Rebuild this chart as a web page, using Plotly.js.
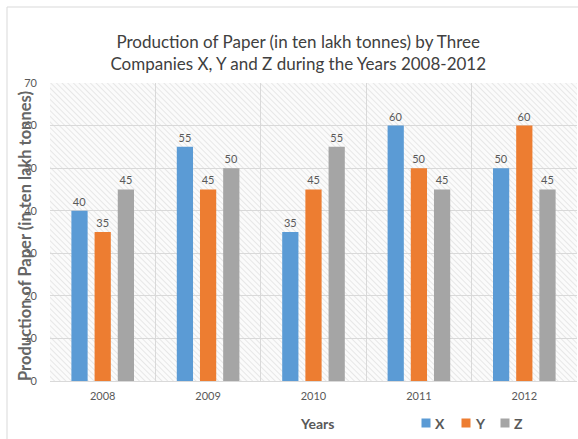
<!DOCTYPE html>
<html>
<head>
<meta charset="utf-8">
<script src="https://cdn.plot.ly/plotly-3.0.1.min.js"></script>
<style>html,body{margin:0;padding:0;background:#fff;}#chart{width:578px;height:439px;}</style>
</head>
<body>
<div id="chart"></div>
<script>
const years = ['2008', '2009', '2010', '2011', '2012'];
const seriesX = [40, 55, 35, 60, 50];
const seriesY = [35, 45, 45, 50, 60];
const seriesZ = [45, 50, 55, 45, 45];
const seriesNames = ['X', 'Y', 'Z'];
const colors = ['#5B9BD5', '#ED7D31', '#A5A5A5'];
const yTicks = [0, 10, 20, 30, 40, 50, 60, 70];

const FONT = 'Lato, "Open Sans", sans-serif';
const L = 50, T = 83, W = 527, H = 298;
const px2x = p => (p - L) / W;
const py2y = p => (T + H - p) / H;

const svg = "<svg xmlns='http://www.w3.org/2000/svg' width='" + W + "' height='" + H + "' viewBox='0 0 " + W + " " + H + "' preserveAspectRatio='none'>" +
  "<defs><pattern id='p' width='4' height='4' patternUnits='userSpaceOnUse' patternTransform='rotate(-45)'>" +
  "<rect width='4' height='4' fill='#fbfbfb'/><line x1='0' y1='0' x2='0' y2='4' stroke='#e2e2e2' stroke-width='1.6'/></pattern></defs>" +
  "<rect width='100%' height='100%' fill='url(#p)'/></svg>";
const hatch = 'data:image/svg+xml;base64,' + btoa(svg);

const allSeries = [seriesX, seriesY, seriesZ];
const traces = allSeries.map((vals, i) => ({
  type: 'bar',
  name: seriesNames[i],
  x: years,
  y: vals,
  marker: {color: colors[i]},
  text: vals.map(String),
  textposition: 'outside',
  textfont: {family: FONT, size: 11, color: '#595959'},
  cliponaxis: false,
  showlegend: false
}));

// legend drawn as annotations (square + label) from the series names / colours
const legendSquareX = [426, 466, 505];
const legendAnn = [];
seriesNames.forEach((nm, i) => {
  legendAnn.push({
    text: ' ', xref: 'paper', yref: 'paper', x: px2x(legendSquareX[i]), y: py2y(423),
    xanchor: 'center', yanchor: 'middle', showarrow: false, width: 8, height: 8,
    bgcolor: colors[i], borderpad: 0, font: {size: 1}
  });
  legendAnn.push({
    text: '<b>' + nm + '</b>', xref: 'paper', yref: 'paper', x: px2x(legendSquareX[i] + 7), y: py2y(423),
    xanchor: 'left', yanchor: 'middle', showarrow: false,
    font: {family: FONT, size: 14, color: '#595959'}
  });
});

const layout = {
  width: 578, height: 439,
  margin: {l: L, r: 578 - L - W, t: T, b: 439 - T - H},
  paper_bgcolor: '#ffffff',
  plot_bgcolor: 'rgba(0,0,0,0)',
  barmode: 'group',
  bargap: 0.34,
  bargroupgap: 0.3,
  hovermode: false,
  showlegend: false,
  font: {family: FONT, color: '#595959'},
  title: {
    text: 'Production of Paper (in ten lakh tonnes) by Three<br>Companies X, Y and Z during the Years 2008-2012',
    font: {family: FONT, size: 17, color: '#404040'},
    xref: 'container', x: 0.516, xanchor: 'center',
    yref: 'container', y: 1 - 48 / 439, yanchor: 'middle'
  },
  xaxis: {
    type: 'category',
    tickson: 'boundaries',
    showgrid: true,
    gridcolor: '#d9d9d9',
    ticks: '',
    showline: true,
    linecolor: '#d9d9d9',
    tickfont: {family: FONT, size: 11, color: '#595959'},
    ticklabelstandoff: 5,
    fixedrange: true
  },
  yaxis: {
    range: [0, 70],
    tickvals: yTicks,
    showgrid: true,
    gridcolor: '#d9d9d9',
    zeroline: false,
    showline: false,
    ticks: '',
    tickfont: {family: FONT, size: 11, color: '#595959'},
    ticklabelstandoff: 12,
    fixedrange: true
  },
  images: [{
    source: hatch, xref: 'paper', yref: 'paper',
    x: 0, y: 1, sizex: 1, sizey: 1, sizing: 'stretch',
    xanchor: 'left', yanchor: 'top', layer: 'below'
  }],
  shapes: [{
    type: 'rect', xref: 'paper', yref: 'paper',
    x0: px2x(7), x1: 1.2, y0: -0.4, y1: py2y(7),
    line: {color: '#d9d9d9', width: 1}, fillcolor: 'rgba(0,0,0,0)', layer: 'below'
  }],
  annotations: [
    {
      text: '<b>Production of Paper (in ten lakh tonnes)</b>',
      xref: 'paper', yref: 'paper', x: px2x(25), y: py2y(236),
      xanchor: 'center', yanchor: 'middle', textangle: -90, showarrow: false,
      font: {family: FONT, size: 16.5, color: '#666666'}
    },
    {
      text: '<b>Years</b>',
      xref: 'paper', yref: 'paper', x: px2x(317), y: py2y(423),
      xanchor: 'center', yanchor: 'middle', showarrow: false,
      font: {family: FONT, size: 14, color: '#595959'}
    }
  ].concat(legendAnn)
};

Plotly.newPlot('chart', traces, layout, {displayModeBar: false, staticPlot: true});
</script>
</body>
</html>
